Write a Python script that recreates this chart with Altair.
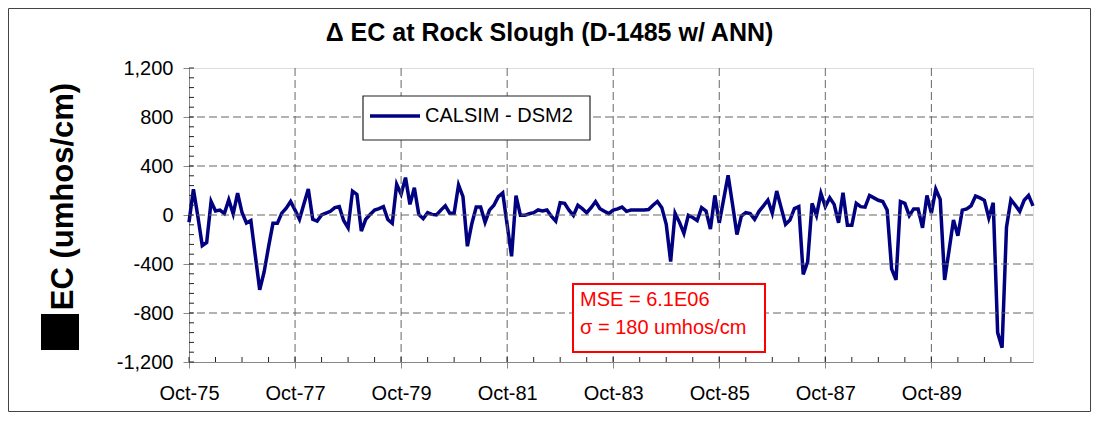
import altair as alt
import pandas as pd

# Monthly Delta EC (CALSIM - DSM2), Oct-75 .. Sep-91
wy1976 = [-60, 210, -10, -250, -225, 110, 33, 40, 12, 125, 10, 178]
wy1977 = [20, -65, -45, -330, -610, -465, -260, -68, -68, 15, 55, 110]
wy1978 = [40, -35, 90, 213, -35, -50, 0, 16, 30, 60, 68, -45]
wy1979 = [-104, 195, 168, -131, -35, 5, 41, 52, 68, -37, -68, 250]
wy1980 = [170, 305, 87, 223, 5, -30, 19, 5, 0, 40, 75, 15]
wy1981 = [15, 245, 150, -255, -71, 65, 65, -60, 40, 80, 150, 180]
wy1982 = [-80, -337, 158, -3, -3, 10, 19, 41, 33, 41, -10, -50]
wy1983 = [101, 95, 40, -3, 79, 52, 19, 60, 110, 52, 30, 11]
wy1984 = [40, 50, 65, 30, 40, 40, 40, 40, 45, 80, 110, 60]
wy1985 = [-76, -380, 15, -60, -150, -3, -20, -45, 60, 33, -115, 160]
wy1986 = [-65, 130, 324, 87, -160, -8, 19, 11, -35, 30, 75, 122]
wy1987 = [14, 196, 60, -76, -41, 52, 68, -484, -383, 95, -3, 177]
wy1988 = [68, 141, 87, -63, 182, -84, -84, 95, 68, 65, 160, 140]
wy1989 = [120, 110, 40, -440, -530, 110, 95, -5, 50, 50, -105, 160]
wy1990 = [15, 210, 128, -530, -290, -40, -170, 40, 50, 75, 155, 140]
wy1991 = [120, -25, 100, -960, -1083, -100, 125, 80, 30, 120, 160, 75]

ec_diff = (wy1976 + wy1977 + wy1978 + wy1979 + wy1980 + wy1981 + wy1982 + wy1983
           + wy1984 + wy1985 + wy1986 + wy1987 + wy1988 + wy1989 + wy1990 + wy1991)
months = pd.date_range("1975-10-01", periods=len(ec_diff), freq="MS").strftime("%b-%y").tolist()

x_tick_labels = ["Oct-75", "Oct-77", "Oct-79", "Oct-81", "Oct-83", "Oct-85", "Oct-87", "Oct-89"]
y_tick_values = [-1200, -800, -400, 0, 400, 800, 1200]
y_grid_values = [-800, -400, 0, 400, 800]
y_minor_values = [-1200, -1120, -1040, -960, -880, -800, -720, -640, -560, -480, -400, -320,
                  -240, -160, -80, 0, 80, 160, 240, 320, 400, 480, 560, 640, 720, 800, 880,
                  960, 1040, 1120, 1200]
minor_month_names = ["Apr", "Oct"]

series_name = ["CALSIM - DSM2"]
stats_text = ["MSE = 6.1E06", "\u03c3 = 180 umhos/cm"]
title_text = ["\u0394 EC at Rock Slough (D-1485 w/ ANN)"]
y_title = "EC (umhos/cm)"

df = pd.DataFrame({"m": list(range(len(ec_diff))), "month": months, "ec": ec_diff})
x_tick_pos = [months.index(t) for t in x_tick_labels]
x_minor_pos = [i for i, m in enumerate(months) if m[:3] in minor_month_names]

FONT = "Liberation Sans"
W, H = 844, 294
x_scale = alt.Scale(domain=[0, len(ec_diff) - 1], nice=False, zero=False)
y_scale = alt.Scale(domain=[-1200, 1200], nice=False)

x_label_expr = "[" + ",".join("'%s'" % t for t in x_tick_labels) + "][round(datum.value/24)]"
y_label_expr = "(datum.value < 0 ? '-' : '') + format(abs(datum.value), ',')"

X_AXIS = alt.Axis(values=x_tick_pos, labelExpr=x_label_expr, grid=False, title=None,
                  tickSize=6, labelPadding=15, labelFontSize=20, labelFont=FONT,
                  labelColor="#000", labelFlush=False)
Y_AXIS = alt.Axis(values=y_tick_values, labelExpr=y_label_expr, grid=False,
                  title=y_title, titleAngle=270, titleX=-117, titleY=128,
                  titleFontSize=31, titleFontWeight="bold", titleFont=FONT,
                  titleAlign="center", titleBaseline="alphabetic", titleColor="#000",
                  tickSize=6, labelPadding=10, labelFontSize=20, labelFont=FONT,
                  labelColor="#000", labelFlush=False)

one = pd.DataFrame({"k": [0]})

hgrid = alt.Chart(pd.DataFrame({"g": y_grid_values})).mark_rule(
    color="#666", strokeDash=[8, 4], strokeWidth=1
).encode(y=alt.Y("g:Q", scale=y_scale, axis=Y_AXIS))

vgrid = alt.Chart(pd.DataFrame({"g": x_tick_pos[1:]})).mark_rule(
    color="#666", strokeDash=[8, 4], strokeWidth=1
).encode(x=alt.X("g:Q", scale=x_scale, axis=X_AXIS))

line = alt.Chart(df).mark_line(color="#000080", strokeWidth=3.5).encode(
    x=alt.X("m:Q", scale=x_scale, axis=X_AXIS),
    y=alt.Y("ec:Q", scale=y_scale, axis=Y_AXIS),
)

ymin = alt.Chart(pd.DataFrame({"t": y_minor_values})).mark_rule(color="#222", strokeWidth=1).encode(
    y=alt.Y("t:Q", scale=y_scale, axis=Y_AXIS), x=alt.value(0), x2=alt.value(5))
xmin = alt.Chart(pd.DataFrame({"t": x_minor_pos})).mark_rule(color="#222", strokeWidth=1).encode(
    x=alt.X("t:Q", scale=x_scale, axis=X_AXIS), y=alt.value(H - 5), y2=alt.value(H))

leg_box = alt.Chart(one).mark_rect(fill="white", stroke="#222", strokeWidth=1.2).encode(
    x=alt.value(174), x2=alt.value(401), y=alt.value(28), y2=alt.value(72))
leg_line = alt.Chart(one).mark_rule(color="#000080", strokeWidth=3.5).encode(
    x=alt.value(181), x2=alt.value(231), y=alt.value(48))
leg_text = alt.Chart(pd.DataFrame({"label": series_name})).mark_text(
    align="left", baseline="middle", fontSize=20, font=FONT, color="#000"
).encode(x=alt.value(236), y=alt.value(48), text="label:N")

ann_box = alt.Chart(one).mark_rect(fill="white", stroke="#ff0000", strokeWidth=2).encode(
    x=alt.value(384), x2=alt.value(576), y=alt.value(216), y2=alt.value(284))
ann_text1 = alt.Chart(pd.DataFrame({"t": stats_text[:1]})).mark_text(
    align="left", baseline="middle", fontSize=20, font=FONT, color="#ff0000"
).encode(x=alt.value(391), y=alt.value(232), text="t:N")
ann_text2 = alt.Chart(pd.DataFrame({"t": stats_text[1:]})).mark_text(
    align="left", baseline="middle", fontSize=20, font=FONT, color="#ff0000"
).encode(x=alt.value(391), y=alt.value(260), text="t:N")

title = alt.Chart(pd.DataFrame({"t": title_text})).mark_text(
    align="center", baseline="alphabetic", fontSize=25, font=FONT, fontWeight="bold", color="#000"
).encode(x=alt.value(360.5), y=alt.value(-27), text="t:N")

block = alt.Chart(one).mark_rect(fill="#000").encode(
    x=alt.value(-148), x2=alt.value(-110), y=alt.value(246), y2=alt.value(282))
frame = alt.Chart(one).mark_rect(fill=None, stroke="#444", strokeWidth=1).encode(
    x=alt.value(-180.5), x2=alt.value(W + 57.5), y=alt.value(-59.5), y2=alt.value(H + 49.5))

chart = alt.layer(
    line, hgrid, vgrid, ymin, xmin, leg_box, leg_line, leg_text,
    ann_box, ann_text1, ann_text2, title, block, frame
).properties(
    width=W, height=H,
    autosize=alt.AutoSizeParams(type="none"),
    padding={"left": 181, "top": 60, "right": 58, "bottom": 50},
).configure_view(
    stroke="#888", strokeWidth=1.5
).configure_axis(
    domainColor="#222", domainWidth=2, tickColor="#222", tickWidth=1.5
).configure(background="white")

chart.save("out.html", embed_options={"renderer": "svg", "actions": False})
